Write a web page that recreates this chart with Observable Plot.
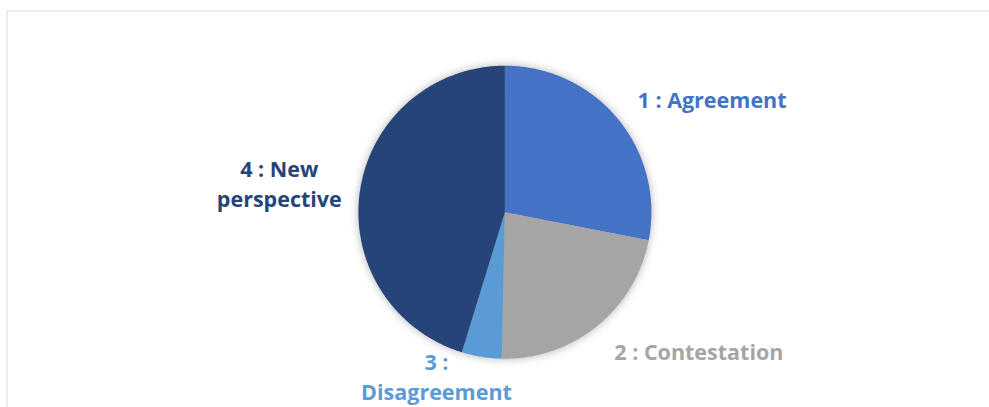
<!DOCTYPE html>
<html>
<head>
<meta charset="utf-8">
<script src="https://cdn.jsdelivr.net/npm/d3@7"></script>
<script src="https://cdn.jsdelivr.net/npm/@observablehq/plot@0.6"></script>
<style>
  html, body { margin: 0; padding: 0; background: #ffffff; }
  #chart svg { display: block; }
</style>
</head>
<body>
<div id="chart"></div>
<script>
// ---- data ----
const categories = ["Agreement", "Contestation", "Disagreement", "New perspective"];
const codes = [1, 2, 3, 4];
const shares = [28.1, 22.3, 4.4, 45.3];          // percent of the pie
const labelText = ["1 : Agreement", "2 : Contestation", "3 :\nDisagreement", "4 : New\nperspective"];

// ---- style / layout ----
const colors = ["#4472C4", "#A5A5A5", "#5B9BD5", "#264478"];
const labelPos = [[1.414, 0.774], [1.324, -0.943], [-0.467, -1.114], [-1.540, 0.204]]; // in pie radii
const W = 989, H = 407, R = 146.5, CX = 504.4, CY = 211.7;

const table = categories.map((c, i) => ({category: c, code: codes[i], share: shares[i], label: labelText[i], lx: labelPos[i][0], ly: labelPos[i][1]}));

const arcs = d3.pie().value(d => d.share).sort(null).startAngle(0).endAngle(2 * Math.PI)(table);
const slicePts = [];
for (const a of arcs) {
  slicePts.push({category: a.data.category, x: 0, y: 0});
  const n = Math.max(4, Math.ceil((a.endAngle - a.startAngle) / (Math.PI / 360)));
  for (let k = 0; k <= n; k++) {
    const t = a.startAngle + (a.endAngle - a.startAngle) * k / n;
    slicePts.push({category: a.data.category, x: Math.sin(t), y: Math.cos(t)});
  }
  slicePts.push({category: a.data.category, x: 0, y: 0});
}

const chart = Plot.plot({
  width: W,
  height: H,
  margin: 0,
  x: {domain: [-CX / R, (W - CX) / R], range: [0, W], axis: null},
  y: {domain: [(CY - H) / R, CY / R], range: [H, 0], axis: null},
  color: {domain: categories, range: colors},
  marks: [
    Plot.frame({stroke: "#D9D9D9", strokeWidth: 1, insetLeft: 6.5, insetTop: 10.5, insetRight: -5, insetBottom: -5}),
    Plot.line(slicePts, {
      x: "x", y: "y", z: "category", fill: "category", stroke: "none", curve: "linear",
      imageFilter: "drop-shadow(0px 0px 4px rgba(0,0,0,0.30))"
    }),
    Plot.text(table, {
      x: "lx", y: "ly", text: "label", fill: "category",
      fontFamily: "Open Sans", fontWeight: "bold", fontSize: 21.5, lineHeight: 1.4,
      textAnchor: "middle"
    })
  ]
});
document.getElementById("chart").appendChild(chart);
</script>
</body>
</html>
